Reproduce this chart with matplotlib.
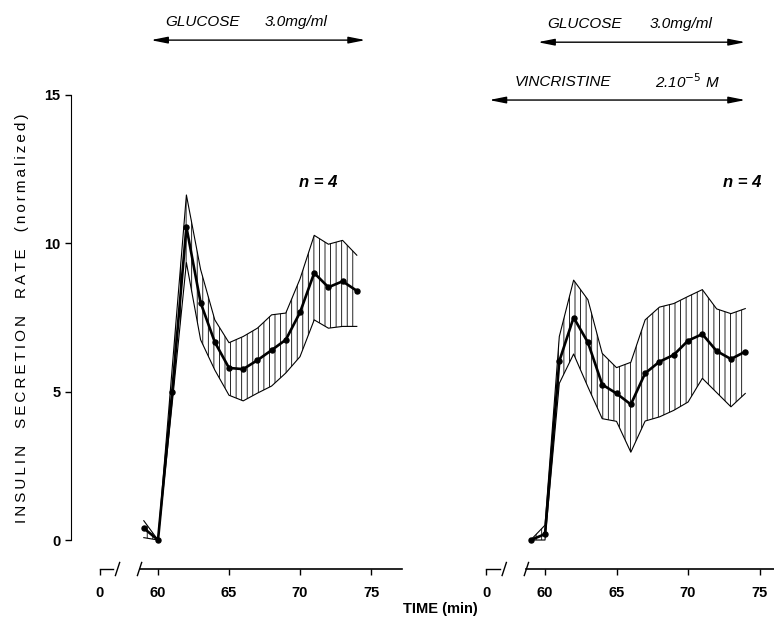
import matplotlib
matplotlib.use("Agg")
import matplotlib.pyplot as plt

plt.rcParams['font.family'] = ['Liberation Sans', 'DejaVu Sans']
plt.rcParams['hatch.linewidth'] = 0.6

# time points (min)
t = [59, 60, 61, 62, 63, 64, 65, 66, 67, 68, 69, 70, 71, 72, 73, 74]

# glucose alone (left panel)
ctrl_mean = [0.4, 0.0, 5.0, 10.55, 8.0, 6.67, 5.8, 5.76, 6.06, 6.4, 6.75, 7.67, 9.0, 8.52, 8.72, 8.4]
ctrl_upper = [0.65, 0.0, 5.8, 11.63, 9.12, 7.42, 6.65, 6.86, 7.14, 7.59, 7.65, 8.8, 10.27, 9.97, 10.1, 9.6]
ctrl_lower = [0.08, 0.0, 4.6, 9.35, 6.75, 5.73, 4.88, 4.69, 4.95, 5.19, 5.63, 6.18, 7.42, 7.14, 7.2, 7.2]

# glucose + vincristine (right panel)
vinc_mean = [0.0, 0.2, 6.03, 7.5, 6.66, 5.24, 4.94, 4.57, 5.62, 6.01, 6.24, 6.72, 6.94, 6.37, 6.1, 6.35]
vinc_upper = [0.0, 0.5, 6.86, 8.76, 8.1, 6.29, 5.81, 5.99, 7.42, 7.85, 7.97, 8.21, 8.44, 7.79, 7.63, 7.8]
vinc_lower = [0.0, 0.0, 5.28, 6.27, 5.16, 4.09, 4.0, 2.96, 4.01, 4.15, 4.37, 4.65, 5.45, 4.97, 4.49, 4.94]

xtick_pos = [55.9, 60, 65, 70, 75]
xtick_lab = ['0', '60', '65', '70', '75']
ytick_pos = [0, 5, 10, 15]

W, H = 774, 621
fig = plt.figure(figsize=(W / 100, H / 100), dpi=100)


def px_rect(x0, x1, ytop, ybot):
    return [x0 / W, 1 - ybot / H, (x1 - x0) / W, (ybot - ytop) / H]


def spaced(word):
    # letter-spaced text, like the typewriter-style labels of the figure
    return '\u2009'.join(word)


ymin = -0.977
axL = fig.add_axes(px_rect(71, 402, 95, 569))
axL.set_xlim(53.873, 77.183)
axR = fig.add_axes(px_rect(480, 774, 95, 569))
axR.set_xlim(55.455, 76.01)

tickfont = dict(fontsize=10.5, fontweight='bold')

for ax, mean, up, lo in [(axL, ctrl_mean, ctrl_upper, ctrl_lower),
                         (axR, vinc_mean, vinc_upper, vinc_lower)]:
    ax.set_ylim(ymin, 15)
    ax.patch.set_visible(False)
    ax.fill_between(t, lo, up, facecolor='none', edgecolor='black',
                    hatch='|||', linewidth=0)
    ax.plot(t, up, color='black', lw=0.8)
    ax.plot(t, lo, color='black', lw=0.8)
    ax.plot(t, mean, color='black', lw=1.9, marker='o', markersize=3.6)

    for s in ['top', 'right']:
        ax.spines[s].set_visible(False)
    ax.spines['bottom'].set_bounds(58.7, ax.get_xlim()[1])
    ax.spines['bottom'].set_linewidth(1.2)
    ax.set_xticks(xtick_pos)
    ax.set_xticklabels(xtick_lab, **tickfont)
    ax.tick_params(axis='x', direction='out', length=4, width=1, pad=8)

    # broken axis: short piece at 0 and two slashes
    ax.plot([55.9, 56.85], [ymin, ymin], color='black', lw=1.0, clip_on=False)
    for xs in (57.15, 58.7):
        ax.plot([xs - 0.15, xs + 0.15], [ymin - 0.22, ymin + 0.22],
                color='black', lw=1.0, clip_on=False)

axL.spines['left'].set_bounds(0, 15)
axL.set_yticks(ytick_pos)
axL.set_yticklabels([str(v) for v in ytick_pos], **tickfont)
axL.tick_params(axis='y', direction='out', length=4, width=1)
axR.spines['left'].set_visible(False)
axR.set_yticks([])

# treatment arrows
arrow = dict(arrowstyle='<|-|>,head_length=1.0,head_width=0.2', color='black', lw=1.0)
label = dict(fontsize=11, style='italic', va='center', ha='left', clip_on=False)

axL.annotate('', xy=(59.3, 16.85), xytext=(74.8, 16.85), arrowprops=arrow,
             annotation_clip=False)
axL.text(60.5, 17.46, 'GLUCOSE', **label)
axL.text(67.5, 17.46, '3.0mg/ml', **label)

axR.annotate('', xy=(59.3, 16.78), xytext=(74.2, 16.78), arrowprops=arrow,
             annotation_clip=False)
axR.text(60.15, 17.4, 'GLUCOSE', **label)
axR.text(67.35, 17.4, '3.0mg/ml', **label)

axR.annotate('', xy=(55.9, 14.83), xytext=(74.2, 14.83), arrowprops=arrow,
             annotation_clip=False)
axR.text(57.9, 15.44, 'VINCRISTINE', **label)
axR.text(67.7, 15.44, r'2.10$^{-5}$ M', **label)

nfont = dict(fontsize=12, style='italic', fontweight='bold', ha='center', va='center')
axL.text(71.3, 12.05, 'n = 4', **nfont)
axR.text(73.8, 12.05, 'n = 4', **nfont)

fig.text(440 / W, 1 - 609 / H, 'TIME (min)', ha='center', va='center',
         fontsize=10.5, fontweight='bold')
ylab = '    '.join(spaced(w) for w in ['INSULIN', 'SECRETION', 'RATE', '(normalized)'])
fig.text(22 / W, 1 - 318 / H, ylab, rotation=90, ha='center', va='center',
         fontsize=11, fontweight='medium')

fig.savefig('out.png', dpi=100)
